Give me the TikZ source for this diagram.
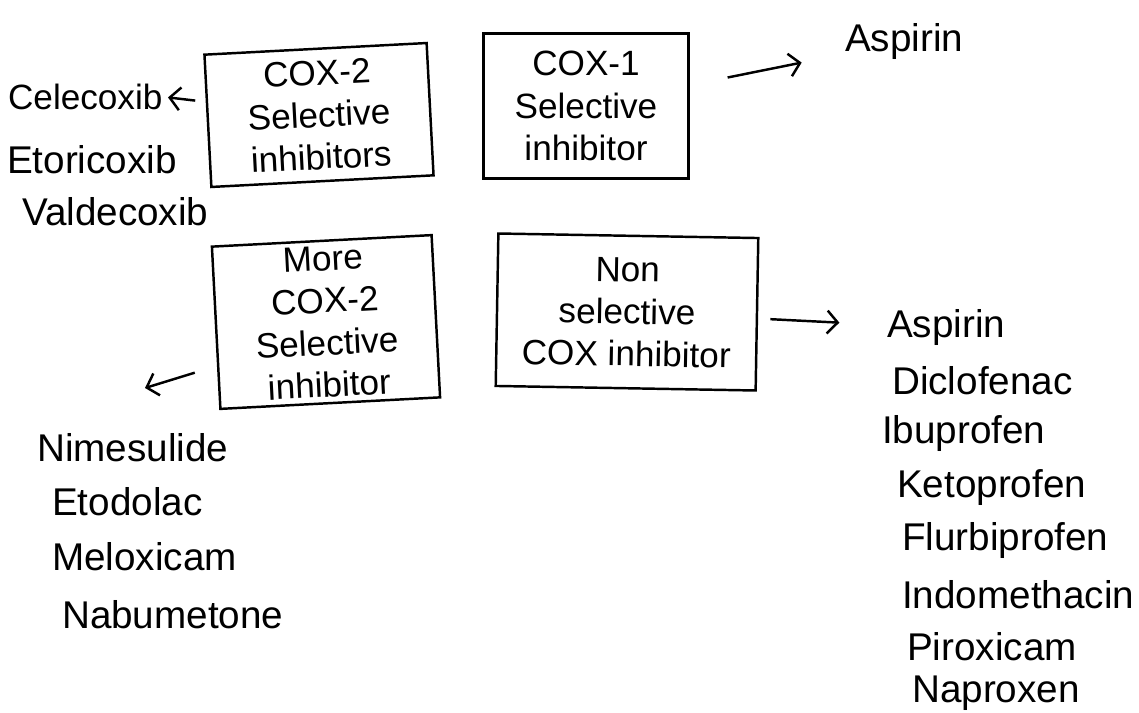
\documentclass[tikz,border=0pt]{standalone}
\usepackage{fontspec}
\setmainfont{Liberation Sans}
\usepackage{tikz}
\usetikzlibrary{arrows.meta}

\tikzset{
	inkbox/.style={draw, line width=1.4pt, align=center, inner sep=2pt,
		font=\fontsize{20}{24}\selectfont},
	drug/.style={anchor=west, inner sep=1pt, font=\fontsize{22}{24}\selectfont},
	smalldrug/.style={drug, font=\fontsize{20}{24}\selectfont},
	inkarrow/.style={line width=1.4pt, -{Straight Barb[length=6pt, width=13pt]}}
}

\begin{document}
\begin{tikzpicture}[x=0.02cm, y=-0.02cm]
	\useasboundingbox (0,0) rectangle (1139,713);

	% Draw boxes
	\node[inkbox, rotate=3, minimum width=4.45cm, minimum height=2.65cm] (cox2) at (319,115) {COX-2\\Selective\\inhibitors};
	\node[inkbox, minimum width=4.1cm, minimum height=2.9cm] (cox1) at (586,106) {COX-1\\Selective\\inhibitor};
	\node[inkbox, rotate=3, minimum width=4.4cm, minimum height=3.25cm] (more) at (326,322) {More\\COX-2\\Selective\\inhibitor};
	\node[inkbox, rotate=-1, minimum width=5.2cm, minimum height=3.05cm] (nonsel) at (627,312) {Non\\selective\\COX inhibitor};

	%Top left list
	\node[smalldrug] (celecoxib) at (6,97) {Celecoxib};
	\node[drug] (etoricoxib) at (5,160) {Etoricoxib};
	\node[drug] (valdecoxib) at (20,212) {Valdecoxib};

	%Top right
	\node[drug] (aspirina) at (843,42) {Aspirin};

	%Bottom left list
	\node[drug] (nimesulide) at (35,448) {Nimesulide};
	\node[drug] (etodolac) at (50,502) {Etodolac};
	\node[drug] (meloxicam) at (50,557) {Meloxicam};
	\node[drug] (nabumetone) at (60,615) {Nabumetone};

	%Bottom right list
	\node[drug] (aspirinb) at (885,328) {Aspirin};
	\node[drug] (diclofenac) at (890,381) {Diclofenac};
	\node[drug] (ibuprofen) at (880,434) {Ibuprofen};
	\node[drug] (ketoprofen) at (895,488) {Ketoprofen};
	\node[drug] (flurbiprofen) at (900,541) {Flurbiprofen};
	\node[drug] (indomethacin) at (900,595) {Indomethacin};
	\node[drug] (piroxicam) at (905,647) {Piroxicam};
	\node[drug] (naproxen) at (910,693) {Naproxen};

	% Arrows
	\draw[inkarrow, shorten <=6pt, shorten >=2pt] (cox2) -- (celecoxib.east);
	\draw[inkarrow, shorten <=22pt, shorten >=24pt] (cox1) -- (aspirina);
	\draw[inkarrow, shorten <=7pt, shorten >=26pt] (nonsel) -- (aspirinb);
	\coordinate (nimtip) at (145,388);
	\draw[inkarrow, shorten <=12pt] ([yshift=-22pt]more.west) -- (nimtip);

\end{tikzpicture}
\end{document}
